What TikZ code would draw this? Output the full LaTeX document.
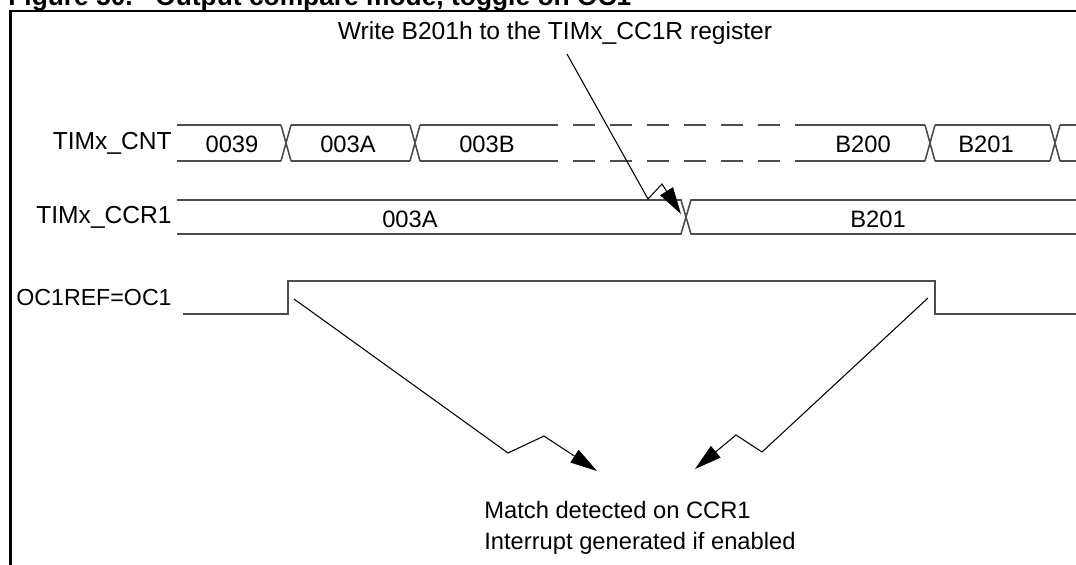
\documentclass[tikz,border=0pt]{standalone}
\usepackage{fontspec}
\setmainfont{Liberation Sans}
\usetikzlibrary{arrows.meta}

\begin{document}
\begin{tikzpicture}[x=0.02cm,y=-0.02cm,
        bus/.style={draw=gris,line width=0.9pt},
        flecha/.style={line width=0.6pt,-{Triangle[length=0.54cm,width=0.3cm]}},
        txt/.style={inner sep=0pt,font=\fontsize{13.5}{15}\selectfont},
        etiq/.style={inner sep=0pt,anchor=east,font=\fontsize{14}{16}\selectfont}]
        %colores
        \colorlet{gris}{black!70}

        \useasboundingbox (0,0) rectangle (1076,565);

        % Titulo (cortado arriba) y marco
        \node[anchor=base west,inner sep=0pt,font=\fontsize{15}{17}\selectfont\bfseries] (fig) at (8,5) {Figure 50.};
        \node[anchor=base west,inner sep=0pt,font=\fontsize{15}{17}\selectfont\bfseries] (tit) at (155,5) {Output compare mode, toggle on OC1};
        \draw[line width=1.3pt] (10.5,565) -- (10.5,11) -- (1076,11);

        % Etiquetas de las senales
        \node[etiq] (cnt) at (172,143) {TIMx\_CNT};
        \node[etiq] (ccr) at (172,217) {TIMx\_CCR1};
        \node[etiq,font=\fontsize{13.2}{15}\selectfont] (oc) at (172,298) {OC1REF=OC1};

        % TIMx_CNT: tramos, cruces y guiones
        \foreach \a/\b in {177/281,291/410,420/558,810/925,935/1050,1060/1076}
        \draw[bus] (\a,125) -- (\b,125) (\a,161) -- (\b,161);
        \foreach \c in {286,415,930,1055}
        \draw[bus] (\c-5,125) -- (\c+5,161) (\c-5,161) -- (\c+5,125);
        \draw[bus,dash pattern=on 0.44cm off 0.3cm] (573,125) -- (810,125) (573,161) -- (810,161);
        \foreach \x/\xtext in {232/0039,348/003A,487/003B,863/B200,986/B201}
        \node[txt] (v\xtext) at (\x,144) {\xtext};

        % TIMx_CCR1
        \draw[bus] (177,200) -- (681,200) -- (691,234) -- (1076,234)
                   (177,234) -- (681,234) -- (691,200) -- (1076,200);
        \coordinate (xccr) at (681,214);
        \node[txt] (cviejo) at (410,219) {003A};
        \node[txt] (cnuevo) at (878,219) {B201};

        % OC1REF=OC1
        \draw[bus] (183,314) -- (288,314) -- (288,281) -- (935,281) -- (935,314) -- (1076,314);
        \coordinate (subida) at (294,299);
        \coordinate (bajada) at (928,298);

        % Textos y flechas
        \node[etiq,anchor=center] (escr) at (555,33) {Write B201h to the TIMx\_CC1R register};
        \coordinate (wini) at (567,54);
        \draw[flecha] (wini) -- (648,199) -- (662,184) -- (xccr);

        \node[txt,anchor=west] (match) at (484,510) {Match detected on CCR1};
        \node[txt,anchor=west] (irq) at (484,543) {Interrupt generated if enabled};
        \coordinate (m1) at (597,471);
        \coordinate (m2) at (695,469);
        \draw[flecha] (subida) -- (508,453) -- (544,436) -- (m1);
        \draw[flecha] (bajada) -- (762,452) -- (736,435) -- (m2);
    \end{tikzpicture}
\end{document}
